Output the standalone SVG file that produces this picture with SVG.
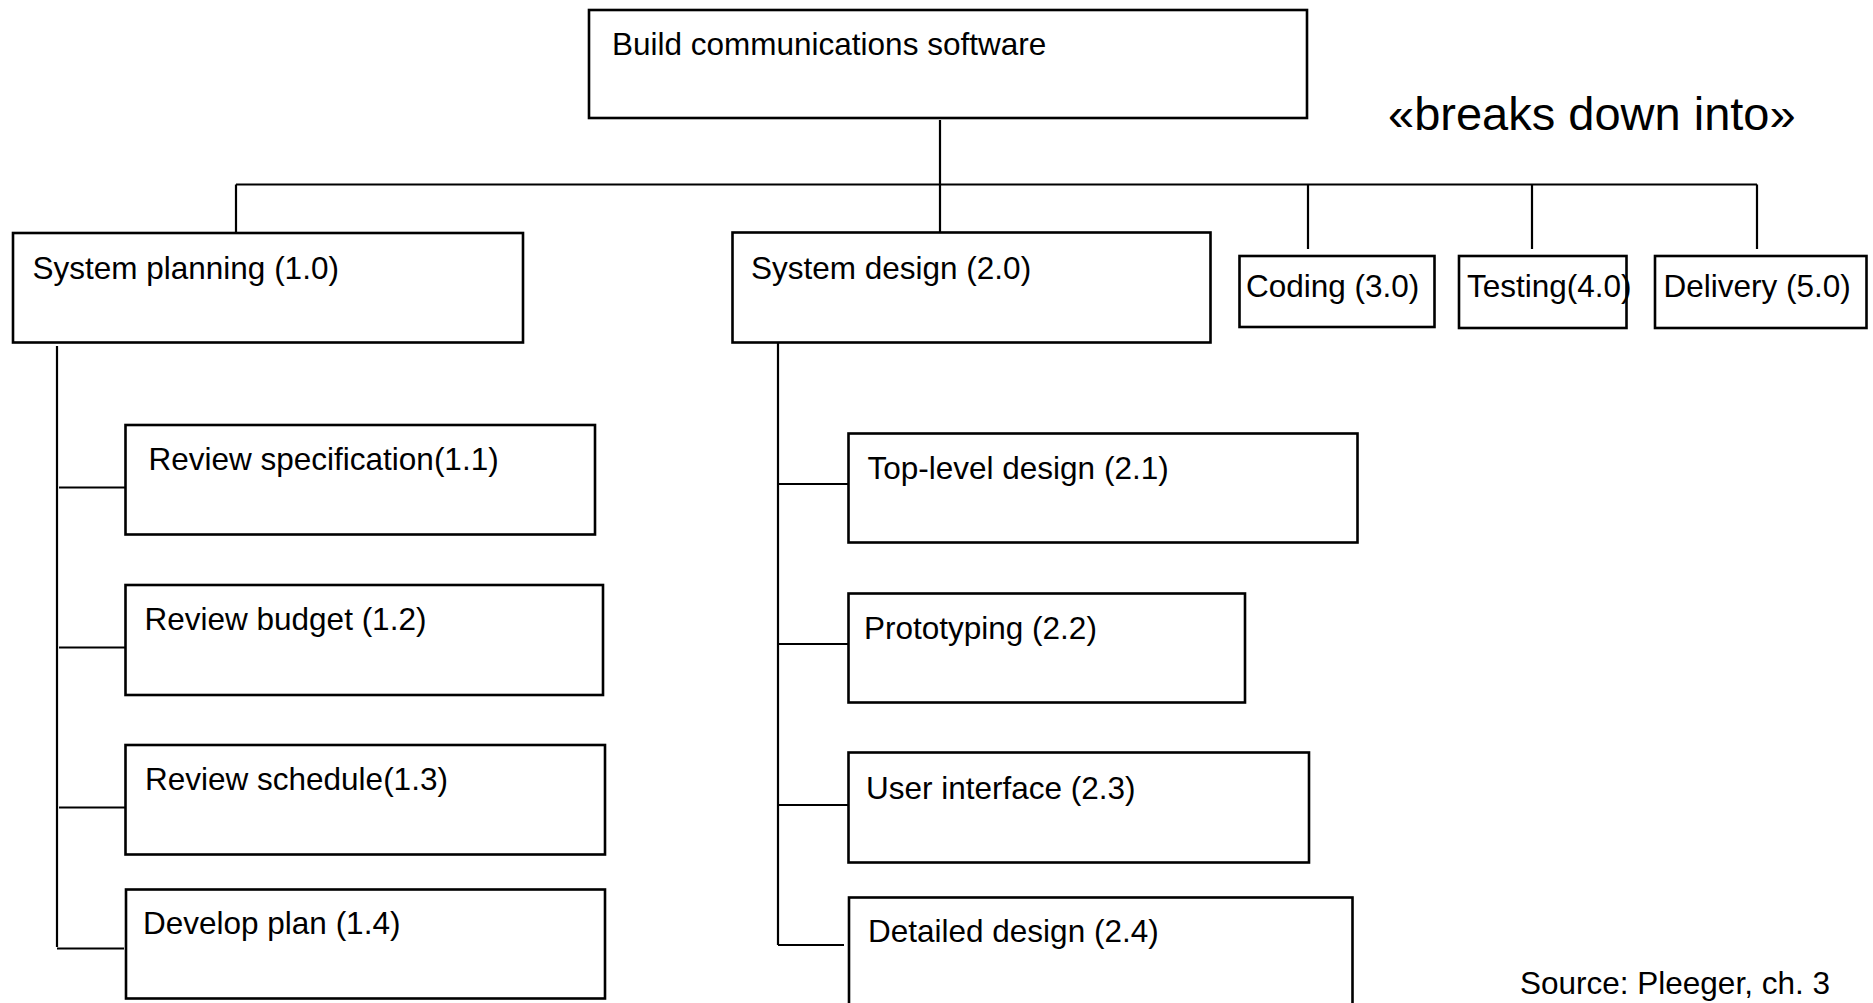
<svg xmlns="http://www.w3.org/2000/svg" width="1873" height="1003" viewBox="0 0 1873 1003">
<style>
.box{fill:#fff;stroke:#000;stroke-width:2.6}
.lbl{font-family:"Liberation Sans",Arial,sans-serif;font-size:31.5px;fill:#000}
.ln{fill:none;stroke:#000;stroke-width:2.2}
</style>
<rect width="1873" height="1003" fill="#fff"/>
<g id="connectors">
<path class="ln" d="M940 120V232M236 184.5H1757M236 184.5V233M1308 184.5V249M1532 184.5V249M1757 184.5V249"/>
<path class="ln" d="M57 346V947M59 487.5H129M59 647.5H129M59 807.5H129M57 948.5H124"/>
<path class="ln" d="M778 343V945M778 484H848M778 644H848M778 805H848M778 945H844"/>
</g>
<g id="n0"><rect class="box" x="589" y="10" width="718" height="108"/><text class="lbl" x="612" y="55">Build communications software</text></g>
<g id="n1"><rect class="box" x="13" y="233" width="510" height="109.5"/><text class="lbl" x="32.5" y="279">System planning (1.0)</text></g>
<g id="n2"><rect class="box" x="732.5" y="232.5" width="478" height="110"/><text class="lbl" x="751" y="279">System design (2.0)</text></g>
<g id="n3"><rect class="box" x="1239.5" y="256" width="195" height="71"/><text class="lbl" x="1246" y="296.5">Coding (3.0)</text></g>
<g id="n4"><rect class="box" x="1459" y="256" width="167.5" height="72"/><text class="lbl" x="1467" y="296.5">Testing(4.0)</text></g>
<g id="n5"><rect class="box" x="1655" y="256" width="211.5" height="72"/><text class="lbl" x="1663.5" y="296.5">Delivery (5.0)</text></g>
<g id="n11"><rect class="box" x="125.5" y="425" width="469.5" height="109.5"/><text class="lbl" x="148.5" y="470">Review specification(1.1)</text></g>
<g id="n12"><rect class="box" x="125.5" y="585" width="477.5" height="110"/><text class="lbl" x="144.5" y="630">Review budget (1.2)</text></g>
<g id="n13"><rect class="box" x="125.5" y="745" width="479.5" height="109.5"/><text class="lbl" x="145" y="790">Review schedule(1.3)</text></g>
<g id="n14"><rect class="box" x="126" y="889.5" width="479" height="109"/><text class="lbl" x="143" y="933.5">Develop plan (1.4)</text></g>
<g id="n21"><rect class="box" x="848.5" y="433.5" width="509" height="109"/><text class="lbl" x="867.5" y="478.5">Top-level design (2.1)</text></g>
<g id="n22"><rect class="box" x="848.5" y="593.5" width="396.5" height="109"/><text class="lbl" x="864" y="638.5">Prototyping (2.2)</text></g>
<g id="n23"><rect class="box" x="848.5" y="752.5" width="460.5" height="110"/><text class="lbl" x="866" y="798.5">User interface (2.3)</text></g>
<g id="n24"><rect class="box" x="849" y="897.5" width="503.5" height="120"/><text class="lbl" x="868" y="941.5">Detailed design (2.4)</text></g>
<text class="lbl" x="1388" y="130" style="font-size:47px">«breaks down into»</text>
<text class="lbl" x="1520" y="994">Source: Pleeger, ch. 3</text>
</svg>
